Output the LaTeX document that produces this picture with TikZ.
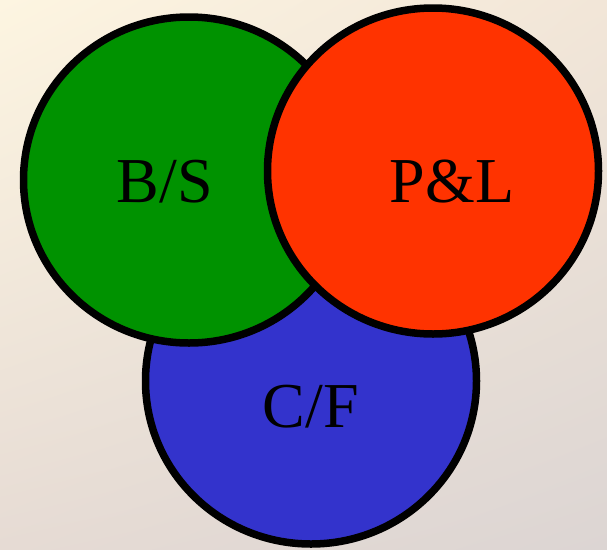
\documentclass[tikz,border=0pt]{standalone}
\usepackage{fontspec}
\setmainfont{Liberation Serif}
\usetikzlibrary{shapes.geometric,shadings}
\definecolor{bsgreen}{RGB}{0,146,0}
\definecolor{plred}{RGB}{255,51,0}
\definecolor{cfblue}{RGB}{51,51,204}
\definecolor{bgUL}{RGB}{253,245,225}
\definecolor{bgUR}{RGB}{242,230,216}
\definecolor{bgLL}{RGB}{230,219,212}
\definecolor{bgLR}{RGB}{220,213,211}
\tikzset{
  set/.style={ellipse, draw=black, line width=7.5pt, minimum width=331pt,
    minimum height=326pt, inner sep=0pt},
  setlabel/.style={anchor=base, inner sep=0pt,
    font=\fontsize{64}{64}\selectfont, text=black}
}
\begin{document}
\begin{tikzpicture}[x=1pt, y=-1pt]
  \useasboundingbox (0,0) rectangle (607,549);
  % soft paper background
  \shade[upper left=bgUL, upper right=bgUR, lower left=bgLL, lower right=bgLR]
    (0,0) rectangle (607,549);
  % the three statements, bottom one first
  \node[set, fill=cfblue]  (cf) at (311,381) {};
  \node[set, fill=bsgreen] (bs) at (189,180) {};
  \node[set, fill=plred]   (pl) at (433,171) {};
  % labels
  \node[setlabel] (bstext) at (165,202) {B/S};
  \node[setlabel] (pltext) at (452,202) {P\&L};
  \node[setlabel] (cftext) at (311,427) {C/F};
\end{tikzpicture}
\end{document}
